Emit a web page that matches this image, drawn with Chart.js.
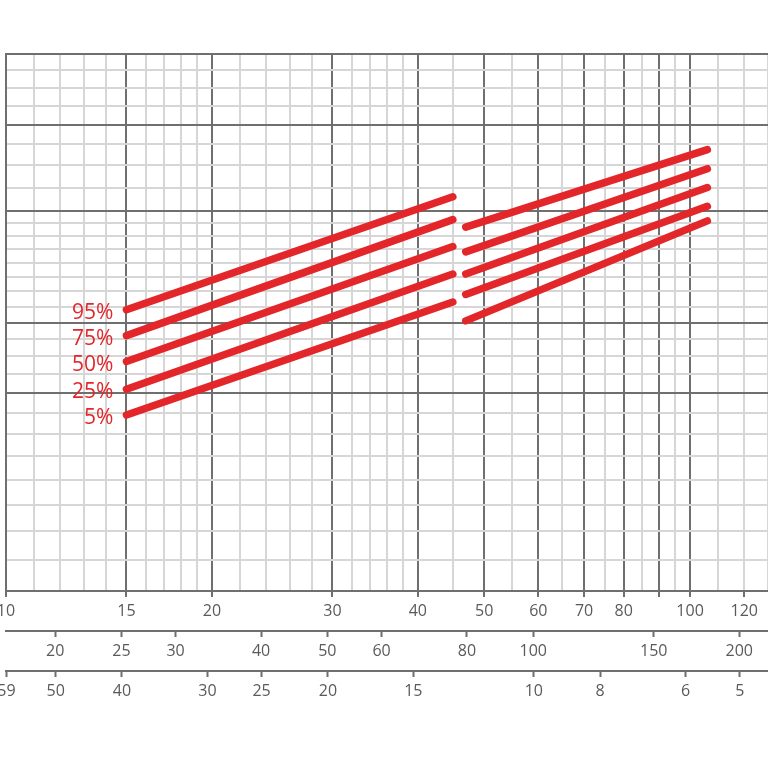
<!DOCTYPE html>
<html>
<head>
<meta charset="utf-8">
<script src="https://cdn.jsdelivr.net/npm/chart.js@4.4.1/dist/chart.umd.min.js"></script>
<style>
  html, body { margin: 0; padding: 0; background: #fff; }
  #chart { display: block; }
</style>
</head>
<body>
<canvas id="chart" width="768" height="768"></canvas>
<script>
// percentile bands, two segments each
const percentiles = ['95%', '75%', '50%', '25%', '5%'];
const leftX = [15, 45];
const rightX = [47, 106];
const leftStartY = [24.8, 23.2, 21.7, 20.2, 18.9];
const leftEndY = [33.2, 31.3, 29.2, 27.2, 25.3];
const rightStartY = [30.7, 28.8, 27.2, 25.8, 24.1];
const rightEndY = [37.5, 35.7, 34.0, 32.4, 31.2];

// grid + tick values
const xMajor = [10, 15, 20, 30, 40, 50, 60, 70, 80, 90, 100];
const xMinor = [11, 12, 13, 14, 16, 17, 18, 19, 22, 24, 26, 28, 32, 34, 36, 38, 45, 55, 65, 75, 85, 95, 110, 120, 130];
const xLabels = [10, 15, 20, 30, 40, 50, 60, 70, 80, 100, 120];
const x2Labels = [20, 25, 30, 40, 50, 60, 80, 100, 150, 200];
const x3Labels = [59, 50, 40, 30, 25, 20, 15, 10, 8, 6, 5];
const yMajor = [12, 20, 24, 32, 40, 48];
const yMinor = [13, 14, 15, 16, 17, 18, 19, 21, 22, 23, 25, 26, 27, 28, 29, 30, 31, 34, 36, 38, 42, 44, 46];

const xRange = [10, 130];
const x2Factor = 1.695;   // second scale = first * factor
const x3Constant = 591;   // third scale = constant / first

const dark = '#6f6f6f';
const light = '#d6d6d6';
const red = '#e3262a';
const labelFont = { family: 'Open Sans', size: 16 };

const datasets = [];
percentiles.forEach((p, i) => {
    datasets.push({
        label: p,
        side: 'left',
        data: [{ x: leftX[0], y: leftStartY[i] }, { x: leftX[1], y: leftEndY[i] }]
    });
    datasets.push({
        label: p,
        side: 'right',
        data: [{ x: rightX[0], y: rightStartY[i] }, { x: rightX[1], y: rightEndY[i] }]
    });
});
datasets.forEach(ds => {
    ds.borderColor = red;
    ds.borderWidth = 7.5;
    ds.borderCapStyle = 'round';
    ds.pointRadius = 0;
    ds.fill = false;
});

const sortAsc = arr => arr.slice().sort((a, b) => a - b);
const setTicks = values => scale => { scale.ticks = sortAsc(values).map(v => ({ value: v })); };
const fixAxis = scale => { scale.paddingLeft = 0; scale.paddingRight = 0; scale.height = 40; };

// writes the percentile name left of each band
const bandLabels = {
    id: 'bandLabels',
    afterDatasetsDraw(chart) {
        const ctx = chart.ctx;
        ctx.save();
        ctx.font = '21px "Open Sans"';
        ctx.fillStyle = red;
        ctx.textAlign = 'right';
        ctx.textBaseline = 'middle';
        chart.data.datasets.forEach((ds, i) => {
            if (ds.side !== 'left') return;
            const pt = chart.getDatasetMeta(i).data[0];
            ctx.fillText(ds.label, pt.x - 13, pt.y + 3);
        });
        ctx.restore();
    }
};

new Chart(document.getElementById('chart'), {
    type: 'line',
    data: { datasets: datasets },
    options: {
        responsive: false,
        animation: false,
        layout: { padding: { left: 6, right: 0, top: 54, bottom: 57 } },
        plugins: { legend: { display: false }, tooltip: { enabled: false } },
        scales: {
            x: {
                type: 'logarithmic',
                position: 'bottom',
                weight: 0,
                min: xRange[0],
                max: xRange[1],
                afterBuildTicks: setTicks(xMajor.concat(xMinor)),
                afterFit: fixAxis,
                grid: {
                    color: c => xMajor.includes(c.tick.value) ? dark : light,
                    lineWidth: 2,
                    tickLength: 6,
                    tickWidth: 2,
                    tickColor: c => (xMajor.includes(c.tick.value) || xLabels.includes(c.tick.value)) ? dark : 'rgba(0,0,0,0)'
                },
                border: { display: true, color: dark, width: 2 },
                ticks: {
                    autoSkip: false,
                    maxRotation: 0,
                    padding: 5,
                    color: '#5a5a5a',
                    font: labelFont,
                    callback: v => xLabels.includes(v) ? String(v) : ''
                }
            },
            x2: {
                type: 'logarithmic',
                position: 'bottom',
                weight: 1,
                min: xRange[0] * x2Factor,
                max: xRange[1] * x2Factor,
                afterBuildTicks: setTicks(x2Labels),
                afterFit: fixAxis,
                grid: { drawOnChartArea: false, color: dark, tickColor: dark, tickLength: 6, tickWidth: 2 },
                border: { display: true, color: dark, width: 2 },
                ticks: {
                    autoSkip: false,
                    maxRotation: 0,
                    padding: 5,
                    color: '#5a5a5a',
                    font: labelFont,
                    callback: v => String(v)
                }
            },
            x3: {
                type: 'logarithmic',
                position: 'bottom',
                weight: 2,
                reverse: true,
                min: x3Constant / xRange[1],
                max: x3Constant / xRange[0],
                afterBuildTicks: setTicks(x3Labels),
                afterFit: fixAxis,
                grid: { drawOnChartArea: false, color: dark, tickColor: dark, tickLength: 6, tickWidth: 2 },
                border: { display: true, color: dark, width: 2 },
                ticks: {
                    autoSkip: false,
                    maxRotation: 0,
                    padding: 5,
                    color: '#5a5a5a',
                    font: labelFont,
                    callback: v => String(v)
                }
            },
            y: {
                type: 'logarithmic',
                position: 'left',
                min: yMajor[0],
                max: yMajor[yMajor.length - 1],
                afterBuildTicks: setTicks(yMajor.concat(yMinor)),
                afterFit: scale => { scale.width = 0; },
                grid: {
                    color: c => yMajor.includes(c.tick.value) ? dark : light,
                    lineWidth: 2,
                    drawTicks: false
                },
                border: { display: true, color: dark, width: 2 },
                ticks: { display: false }
            }
        }
    },
    plugins: [bandLabels]
});
</script>
</body>
</html>
